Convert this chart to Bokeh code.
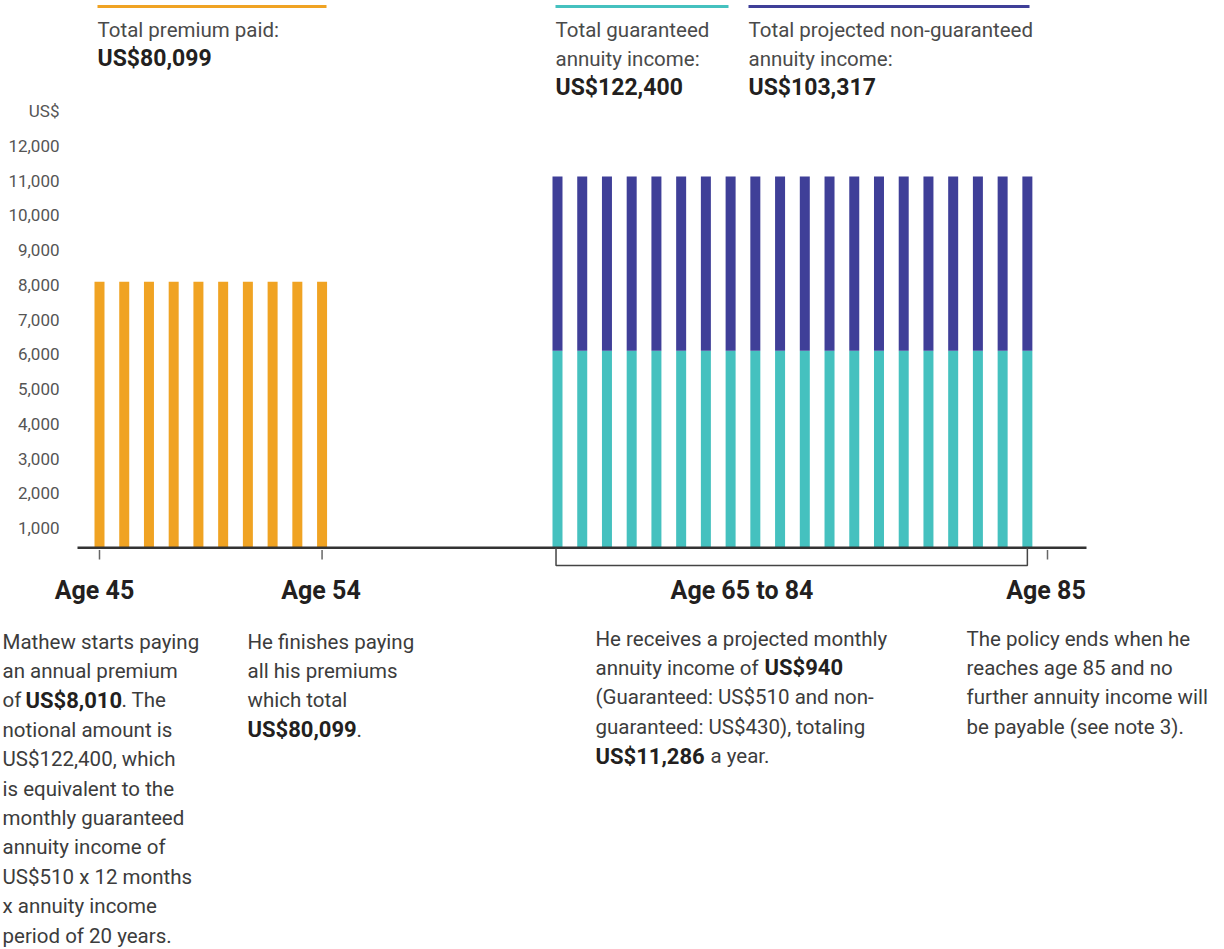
from bokeh.plotting import figure
from bokeh.models import Range1d, FixedTicker, NumeralTickFormatter, Label, ColumnDataSource
from bokeh.embed import file_html
from bokeh.resources import INLINE

# ---------------- data ----------------
premium_ages = [45, 46, 47, 48, 49, 50, 51, 52, 53, 54]
premium_values = [8090, 8090, 8090, 8090, 8090, 8090, 8090, 8090, 8090, 8090]

income_ages = [65, 66, 67, 68, 69, 70, 71, 72, 73, 74,
               75, 76, 77, 78, 79, 80, 81, 82, 83, 84]
guaranteed_values = [6100, 6100, 6100, 6100, 6100, 6100, 6100, 6100, 6100, 6100,
                     6100, 6100, 6100, 6100, 6100, 6100, 6100, 6100, 6100, 6100]
non_guaranteed_values = [5020, 5020, 5020, 5020, 5020, 5020, 5020, 5020, 5020, 5020,
                         5020, 5020, 5020, 5020, 5020, 5020, 5020, 5020, 5020, 5020]

y_tick_values = [1000, 2000, 3000, 4000, 5000, 6000, 7000, 8000, 9000, 10000, 11000, 12000, 13000]
y_tick_labels = ["1,000", "2,000", "3,000", "4,000", "5,000", "6,000", "7,000", "8,000",
                 "9,000", "10,000", "11,000", "12,000", "US$"]

age_labels = ["Age 45", "Age 54", "Age 65 to 84", "Age 85"]

# ---------------- style / layout ----------------
ORANGE = "#F0A323"
TEAL = "#45C1BF"
NAVY = "#3F3F98"
AXIS = "#333333"
TXT = "#3c3c3c"
BOLD = "#231f20"
FONT = "Roboto"
REG = "20.5px"
BSZ = "22px"

W, H = 1220, 947
AXIS_BREAK = 1.48          # compressed gap between age 54 and age 65
BASE = 430                 # value at which the baseline is drawn
PX_PER_YEAR = 24.73
PX_PER_UNIT = 0.03473


def px_x(page_x):
    return 45 + (page_x - 99) / PX_PER_YEAR


def px_y(page_y):
    return (562.2 - page_y) / PX_PER_UNIT


income_x = [a - AXIS_BREAK for a in income_ages]
income_top = [g + n for g, n in zip(guaranteed_values, non_guaranteed_values)]

p = figure(width=W, height=H, output_backend="svg", toolbar_location=None,
           x_range=Range1d(px_x(0), px_x(W)), y_range=Range1d(px_y(H), px_y(0)),
           x_axis_location=None, y_axis_location="left",
           min_border_left=0, min_border_right=0, min_border_top=0, min_border_bottom=0)
p.outline_line_color = None
p.grid.visible = False
p.background_fill_color = "white"
p.border_fill_color = "white"

ax = p.yaxis[0]
ax.fixed_location = px_x(77)
ax.ticker = FixedTicker(ticks=y_tick_values)
ax.formatter = NumeralTickFormatter(format="0,0")
ax.major_label_overrides = {v: s for v, s in zip(y_tick_values, y_tick_labels)}
ax.axis_line_color = None
ax.major_tick_line_color = None
ax.minor_tick_line_color = None
ax.major_tick_out = 0
ax.major_tick_in = 0
ax.major_label_standoff = 18
ax.major_label_text_font = FONT
ax.major_label_text_font_size = "17px"
ax.major_label_text_color = "#555555"

BAR_W = 10 / PX_PER_YEAR

prem = ColumnDataSource(dict(x=premium_ages, top=premium_values))
inc = ColumnDataSource(dict(x=income_x, g=guaranteed_values, top=income_top))

p.vbar(x="x", top="top", bottom=BASE, width=BAR_W, source=prem,
       fill_color=ORANGE, line_color=None)
p.vbar(x="x", top="g", bottom=BASE, width=BAR_W, source=inc,
       fill_color=TEAL, line_color=None)
p.vbar(x="x", top="top", bottom="g", width=BAR_W, source=inc,
       fill_color=NAVY, line_color=None)

# baseline
p.segment(x0=[px_x(77)], x1=[px_x(1086)], y0=[BASE], y1=[BASE],
          line_color=AXIS, line_width=2.5)

# small ticks under age 45 / 54 / 85
tick_x = [premium_ages[0], premium_ages[-1], px_x(1047)]
p.segment(x0=tick_x, x1=tick_x, y0=[px_y(549.5)] * 3, y1=[px_y(559)] * 3,
          line_color="#666666", line_width=1.5)

# bracket under income years
xa = income_x[0] - 0.06
xb = income_x[-1]
yb = px_y(565)
p.line(x=[xa, xa, xb, xb], y=[BASE, yb, yb, BASE], line_color="#444444", line_width=1.5)

# header lines
hy = px_y(6)
p.segment(x0=[px_x(97), px_x(555), px_x(748)], x1=[px_x(326), px_x(728), px_x(1029)],
          y0=[hy] * 3, y1=[hy] * 3, line_color=[ORANGE, TEAL, NAVY], line_width=3)


def lab(text, x, y, size=REG, bold=False, color=TXT, align="left"):
    p.add_layout(Label(x=px_x(x), y=px_y(y), text=text, text_font=FONT,
                       text_font_size=size, text_font_style="bold" if bold else "normal",
                       text_color=color, text_align=align, text_baseline="middle"))


# headers
HC = "#4a4a4a"
lab("Total premium paid:", 97, 29, color=HC)
lab("US$80,099", 97, 57.5, size="23px", bold=True, color=BOLD)
lab("Total guaranteed", 555, 29, color=HC)
lab("annuity income:", 555, 58, color=HC)
lab("US$122,400", 555, 87, size="23px", bold=True, color=BOLD)
lab("Total projected non-guaranteed", 748, 29, color=HC)
lab("annuity income:", 748, 58, color=HC)
lab("US$103,317", 748, 87, size="23px", bold=True, color=BOLD)

# age labels
for t, cx in zip(age_labels, [94, 320.5, 741.5, 1045.5]):
    lab(t, cx, 590, size="25px", bold=True, color=BOLD, align="center")

# paragraph 1
LS = 29.4
y0 = 641
p1 = ["Mathew starts paying", "an annual premium", None, "notional amount is",
      "US$122,400, which", "is equivalent to the", "monthly guaranteed",
      "annuity income of", "US$510 x 12 months", "x annuity income",
      "period of 20 years."]
for i, t in enumerate(p1):
    if t is not None:
        lab(t, 2, y0 + i * LS)
lab("of ", 2, y0 + 2 * LS)
lab("US$8,010", 25, y0 + 2 * LS, size=BSZ, bold=True, color=BOLD)
lab(". The", 121, y0 + 2 * LS)

# paragraph 2
for i, t in enumerate(["He finishes paying", "all his premiums", "which total"]):
    lab(t, 247, y0 + i * LS)
lab("US$80,099", 247, y0 + 3 * LS, size=BSZ, bold=True, color=BOLD)
lab(".", 356, y0 + 3 * LS)

# paragraph 3
y3 = 638
LS3 = 29.4
lab("He receives a projected monthly", 595, y3)
lab("annuity income of ", 595, y3 + LS3)
lab("US$940", 764, y3 + LS3, size=BSZ, bold=True, color=BOLD)
lab("(Guaranteed: US$510 and non-", 595, y3 + 2 * LS3)
lab("guaranteed: US$430), totaling", 595, y3 + 3 * LS3)
lab("US$11,286", 595, y3 + 4 * LS3, size=BSZ, bold=True, color=BOLD)
lab("a year.", 710, y3 + 4 * LS3)

# paragraph 4
for i, t in enumerate(["The policy ends when he", "reaches age 85 and no",
                       "further annuity income will", "be payable (see note 3)."]):
    lab(t, 966, y3 + i * LS3)

open("out.html", "w").write(file_html(p, INLINE))
